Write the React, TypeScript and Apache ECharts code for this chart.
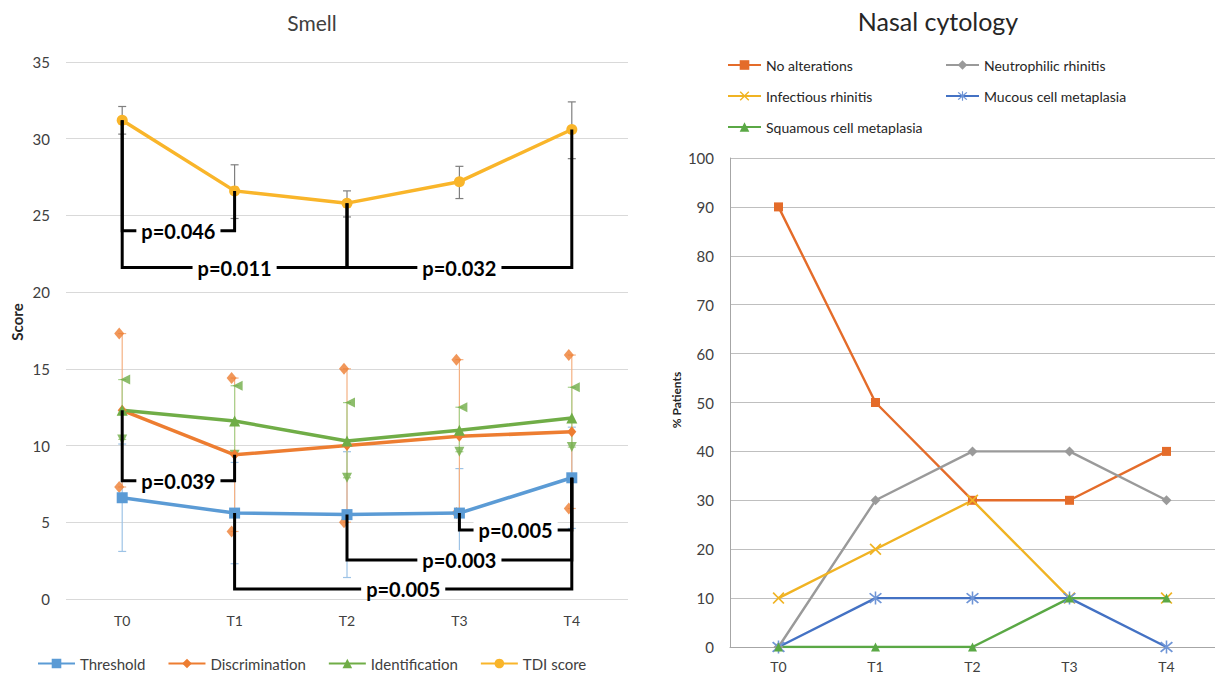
import React, { useEffect, useRef } from 'react';
import * as echarts from 'echarts';

// ---------- Smell (left) ----------
const smellCategories = ['T0', 'T1', 'T2', 'T3', 'T4'];
const thresholdMean = [6.6, 5.6, 5.5, 5.6, 7.9];
const thresholdLow = [3.1, 2.3, 1.4, 2.7, 4.6];
const thresholdHigh = [10.1, 8.9, 9.6, 8.5, 11.2];
const discriminationMean = [12.3, 9.4, 10.0, 10.6, 10.9];
const discriminationLow = [7.3, 4.4, 5.0, 5.6, 5.9];
const discriminationHigh = [17.3, 14.4, 15.0, 15.6, 15.9];
const identificationMean = [12.3, 11.6, 10.3, 11.0, 11.8];
const identificationLow = [10.4, 9.4, 7.9, 9.6, 9.9];
const identificationHigh = [14.3, 13.9, 12.8, 12.5, 13.8];
const tdiMean = [31.2, 26.6, 25.8, 27.2, 30.6];
const tdiLow = [30.3, 24.8, 24.9, 26.1, 28.7];
const tdiHigh = [32.1, 28.3, 26.6, 28.2, 32.4];
const smellTicks = [0, 5, 10, 15, 20, 25, 30, 35];

// significance brackets
const bracketLabels = ['p=0.046', 'p=0.011', 'p=0.032', 'p=0.039', 'p=0.005', 'p=0.003', 'p=0.005'];
const bracketFrom = [0, 0, 2, 0, 3, 2, 1];
const bracketTo = [1, 2, 4, 1, 4, 4, 4];
const bracketLevel = [24.0, 21.6, 21.6, 7.7, 4.5, 2.55, 0.65];
const bracketSeriesOf = ['tdi', 'tdi', 'tdi', 'discrimination', 'threshold', 'threshold', 'threshold'];

// ---------- Nasal cytology (right) ----------
const cytoCategories = ['T0', 'T1', 'T2', 'T3', 'T4'];
const noAlterations = [90, 50, 30, 30, 40];
const neutrophilicRhinitis = [0, 30, 40, 40, 30];
const infectiousRhinitis = [10, 20, 30, 10, 10];
const mucousCellMetaplasia = [0, 10, 10, 10, 0];
const squamousCellMetaplasia = [0, 0, 0, 10, 10];

const C_THR = '#5B9BD5';
const C_DIS = '#ED7D31';
const C_IDE = '#70AD47';
const C_TDI = '#F9B52A';

const FONT = 'Lato, "Open Sans", sans-serif';

const meanOf: Record<string, number[]> = {
  tdi: tdiMean,
  discrimination: discriminationMean,
  threshold: thresholdMean,
  identification: identificationMean,
};

function errorBars(name: string, low: number[], high: number[], color: string) {
  return {
    type: 'custom',
    name: name + ' error',
    xAxisIndex: 0,
    yAxisIndex: 0,
    z: 2,
    silent: true,
    encode: { x: 0, y: [1, 2] },
    data: smellCategories.map((_, i) => [i, low[i], high[i]]),
    renderItem: (params: any, api: any) => {
      const x = api.value(0);
      const lo = api.coord([x, api.value(1)]);
      const hi = api.coord([x, api.value(2)]);
      const cap = 4;
      const st = { stroke: color, lineWidth: 1.2 };
      return {
        type: 'group',
        children: [
          { type: 'line', shape: { x1: lo[0], y1: lo[1], x2: hi[0], y2: hi[1] }, style: st },
          { type: 'line', shape: { x1: lo[0] - cap, y1: lo[1], x2: lo[0] + cap, y2: lo[1] }, style: st },
          { type: 'line', shape: { x1: hi[0] - cap, y1: hi[1], x2: hi[0] + cap, y2: hi[1] }, style: st },
        ],
      };
    },
  };
}

const X_PATH = 'path://M0,1L1,0L5,4L9,0L10,1L6,5L10,9L9,10L5,6L1,10L0,9L4,5Z';
const STAR_PATH = 'path://M0,1L1,0L5,4L9,0L10,1L6,5L10,9L9,10L5,6L1,10L0,9L4,5Z M4.4,-1H5.6V11H4.4Z';

export default function App() {
  const ref = useRef<HTMLDivElement>(null);

  useEffect(() => {
    if (!ref.current) return;
    const chart = echarts.init(ref.current, undefined, { renderer: 'svg' });

    const bracketData = bracketLabels.map((_, i) => {
      const s = meanOf[bracketSeriesOf[i]];
      return [bracketFrom[i], bracketTo[i], bracketLevel[i], s[bracketFrom[i]], s[bracketTo[i]]];
    });

    const option: any = {
      animation: false,
      backgroundColor: '#ffffff',
      textStyle: { fontFamily: FONT },
      graphic: [
        {
          type: 'text', x: 312, y: 22,
          style: { text: 'Smell', font: '21px ' + FONT, fill: '#404040', textAlign: 'center', textVerticalAlign: 'middle', align: 'center', verticalAlign: 'middle' },
        },
        {
          type: 'text', x: 938, y: 21,
          style: { text: 'Nasal cytology', font: '25px ' + FONT, fill: '#262626', textAlign: 'center', textVerticalAlign: 'middle', align: 'center', verticalAlign: 'middle' },
        },
        {
          type: 'text', x: 17, y: 322, rotation: Math.PI / 2,
          style: { text: 'Score', font: 'bold 15px ' + FONT, fill: '#262626', textAlign: 'center', textVerticalAlign: 'middle', align: 'center', verticalAlign: 'middle' },
        },
        {
          type: 'text', x: 676, y: 400, rotation: Math.PI / 2,
          style: { text: '% Patients', font: 'bold 12px ' + FONT, fill: '#262626', textAlign: 'center', textVerticalAlign: 'middle', align: 'center', verticalAlign: 'middle' },
        },
      ],
      legend: [
        {
          left: 32, top: 651, itemWidth: 37, itemHeight: 12, itemGap: 22,
          textStyle: { fontSize: 15, color: '#404040', fontFamily: FONT },
          data: ['Threshold', 'Discrimination', 'Identification', 'TDI score'],
        },
        {
          left: 722, top: 52, orient: 'vertical', itemWidth: 33, itemHeight: 12, itemGap: 15,
          textStyle: { fontSize: 14, color: '#262626', fontFamily: FONT, lineHeight: 16 },
          data: ['No alterations', 'Infectious rhinitis', 'Squamous cell metaplasia'],
        },
        {
          left: 940, top: 52, orient: 'vertical', itemWidth: 33, itemHeight: 12, itemGap: 15,
          textStyle: { fontSize: 14, color: '#262626', fontFamily: FONT, lineHeight: 16 },
          data: ['Neutrophilic rhinitis', 'Mucous cell metaplasia'],
        },
      ],
      grid: [
        { left: 66, top: 62, width: 562, height: 537 },
        { left: 730, top: 158, width: 489, height: 489 },
      ],
      xAxis: [
        {
          type: 'category', gridIndex: 0, data: smellCategories,
          axisLine: { show: false }, axisTick: { show: false },
          axisLabel: { color: '#404040', fontSize: 14, margin: 14, fontFamily: FONT },
        },
        {
          type: 'category', gridIndex: 1, data: cytoCategories,
          axisLine: { show: true, lineStyle: { color: '#A6A6A6' } }, axisTick: { show: false },
          axisLabel: { color: '#404040', fontSize: 14, margin: 12, fontFamily: FONT },
        },
      ],
      yAxis: [
        {
          type: 'value', gridIndex: 0, min: smellTicks[0], max: smellTicks[smellTicks.length - 1], interval: 5,
          axisLine: { show: false }, axisTick: { show: false },
          axisLabel: { color: '#404040', fontSize: 15, margin: 16, fontFamily: FONT },
          splitLine: { lineStyle: { color: '#D9D9D9', width: 1 } },
        },
        {
          type: 'value', gridIndex: 1, min: 0, max: 100, interval: 10,
          axisLine: { show: true, lineStyle: { color: '#A6A6A6' } }, axisTick: { show: false },
          axisLabel: { color: '#404040', fontSize: 15, margin: 16, fontFamily: FONT },
          splitLine: { lineStyle: { color: '#BFBFBF', width: 1 } },
        },
      ],
      series: [
        errorBars('Threshold', thresholdLow, thresholdHigh, '#9DC3E6'),
        errorBars('Discrimination', discriminationLow, discriminationHigh, '#F4B183'),
        errorBars('Identification', identificationLow, identificationHigh, '#A9D18E'),
        errorBars('TDI score', tdiLow, tdiHigh, '#7F7F7F'),
        {
          type: 'scatter', name: 'Discrimination ends', xAxisIndex: 0, yAxisIndex: 0, z: 3, silent: true,
          symbol: 'diamond', symbolSize: [10, 12], symbolOffset: [-3, 0], itemStyle: { color: C_DIS },
          data: discriminationHigh.concat(discriminationLow).map((v, i) => [i % 5, v]),
        },
        {
          type: 'scatter', name: 'Identification upper', xAxisIndex: 0, yAxisIndex: 0, z: 3, silent: true,
          symbol: 'triangle', symbolSize: 10, symbolRotate: 90, symbolOffset: [3, 0], itemStyle: { color: C_IDE },
          data: identificationHigh.map((v, i) => [i, v]),
        },
        {
          type: 'scatter', name: 'Identification lower', xAxisIndex: 0, yAxisIndex: 0, z: 3, silent: true,
          symbol: 'triangle', symbolSize: 10, symbolRotate: 180, itemStyle: { color: C_IDE },
          data: identificationLow.map((v, i) => [i, v]),
        },
        {
          type: 'line', name: 'Threshold', xAxisIndex: 0, yAxisIndex: 0, z: 4, data: thresholdMean,
          symbol: 'rect', symbolSize: 11, lineStyle: { color: C_THR, width: 3.5 }, itemStyle: { color: C_THR },
        },
        {
          type: 'line', name: 'Discrimination', xAxisIndex: 0, yAxisIndex: 0, z: 4, data: discriminationMean,
          symbol: 'diamond', symbolSize: [9, 11], lineStyle: { color: C_DIS, width: 3.5 }, itemStyle: { color: C_DIS },
        },
        {
          type: 'line', name: 'Identification', xAxisIndex: 0, yAxisIndex: 0, z: 4, data: identificationMean,
          symbol: 'triangle', symbolSize: 11, lineStyle: { color: C_IDE, width: 3.5 }, itemStyle: { color: C_IDE },
        },
        {
          type: 'line', name: 'TDI score', xAxisIndex: 0, yAxisIndex: 0, z: 4, data: tdiMean,
          symbol: 'circle', symbolSize: 11, lineStyle: { color: C_TDI, width: 3.5 }, itemStyle: { color: C_TDI },
        },
        {
          type: 'custom', name: 'brackets', xAxisIndex: 0, yAxisIndex: 0, z: 10, silent: true,
          encode: { x: [0, 1], y: [2, 3, 4] },
          data: bracketData,
          renderItem: (params: any, api: any) => {
            const a = api.value(0);
            const b = api.value(1);
            const lvl = api.value(2);
            const pA = api.coord([a, api.value(3)]);
            const pB = api.coord([b, api.value(4)]);
            const lA = api.coord([a, lvl]);
            const lB = api.coord([b, lvl]);
            const mx = (lA[0] + lB[0]) / 2;
            return {
              type: 'group',
              children: [
                {
                  type: 'polyline',
                  shape: { points: [[pA[0], pA[1]], [lA[0], lA[1]], [lB[0], lB[1]], [pB[0], pB[1]]] },
                  style: { stroke: '#000', lineWidth: 3, fill: 'none' },
                },
                {
                  type: 'text', x: mx, y: lA[1],
                  style: {
                    text: bracketLabels[params.dataIndex],
                    font: 'bold 20px ' + FONT, fill: '#000',
                    textAlign: 'center', textVerticalAlign: 'middle', align: 'center', verticalAlign: 'middle',
                    backgroundColor: '#ffffff', padding: [0, 5],
                  },
                },
              ],
            };
          },
        },
        // right chart
        {
          type: 'line', name: 'No alterations', xAxisIndex: 1, yAxisIndex: 1, data: noAlterations,
          symbol: 'rect', symbolSize: 9, lineStyle: { color: '#E46C2A', width: 2.4 }, itemStyle: { color: '#E46C2A' },
        },
        {
          type: 'line', name: 'Neutrophilic rhinitis', xAxisIndex: 1, yAxisIndex: 1, data: neutrophilicRhinitis,
          symbol: 'diamond', symbolSize: 10, lineStyle: { color: '#9A9A9A', width: 2.4 }, itemStyle: { color: '#9A9A9A' },
        },
        {
          type: 'line', name: 'Infectious rhinitis', xAxisIndex: 1, yAxisIndex: 1, data: infectiousRhinitis,
          symbol: X_PATH, symbolSize: 12, lineStyle: { color: '#F0B323', width: 2.4 }, itemStyle: { color: '#F0B323' },
        },
        {
          type: 'line', name: 'Mucous cell metaplasia', xAxisIndex: 1, yAxisIndex: 1, data: mucousCellMetaplasia,
          symbol: STAR_PATH, symbolSize: 13, lineStyle: { color: '#4472C4', width: 2.4 }, itemStyle: { color: '#6F95D6' },
        },
        {
          type: 'line', name: 'Squamous cell metaplasia', xAxisIndex: 1, yAxisIndex: 1, data: squamousCellMetaplasia,
          symbol: 'triangle', symbolSize: 9, lineStyle: { color: '#5AA845', width: 2.4 }, itemStyle: { color: '#5AA845' },
        },
      ],
    };

    chart.setOption(option);
    return () => chart.dispose();
  }, []);

  return (
    <div
      ref={ref}
      style={{ position: 'fixed', left: 0, top: 0, width: 1215, height: 674, background: '#fff' }}
    />
  );
}
